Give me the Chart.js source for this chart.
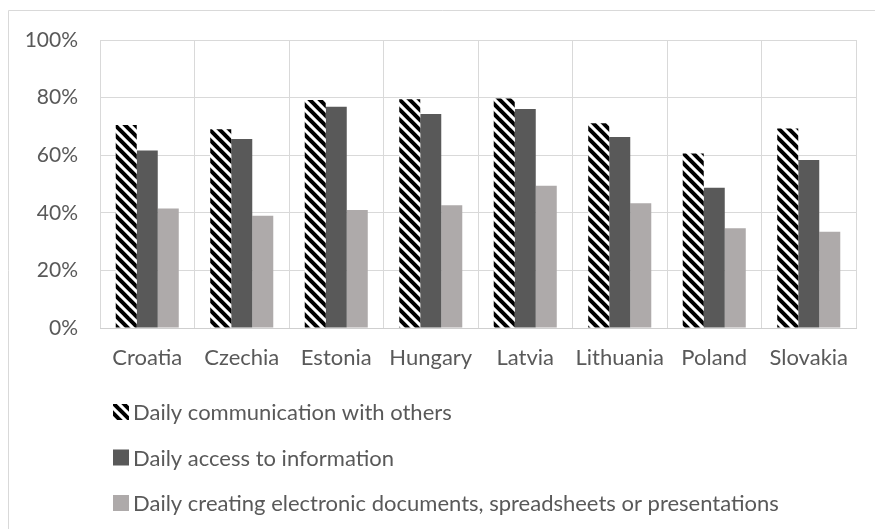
<!DOCTYPE html>
<html>
<head>
<meta charset="utf-8">
<script src="https://cdn.jsdelivr.net/npm/chart.js@4"></script>
<style>
  html, body { margin: 0; padding: 0; background: #fff; }
  #wrap { width: 875px; height: 529px; }
</style>
</head>
<body>
<div id="wrap"><canvas id="chart" width="875" height="529"></canvas></div>
<script>
// Countries on the x axis
const countries = ["Croatia", "Czechia", "Estonia", "Hungary", "Latvia", "Lithuania", "Poland", "Slovakia"];

// Share of people (%) per activity
const communication = [70.5, 69.0, 79.2, 79.4, 79.7, 71.1, 60.6, 69.3];
const accessInfo = [61.6, 65.6, 76.8, 74.3, 76.0, 66.3, 48.7, 58.3];
const creatingDocs = [41.5, 39.0, 41.0, 42.6, 49.4, 43.3, 34.6, 33.4];

const seriesNames = [
  "Daily communication with others",
  "Daily access to information",
  "Daily creating electronic documents, spreadsheets or presentations",
];

const yTicks = [0, 20, 40, 60, 80, 100];

const FONT = "Lato";
const TEXT = "#595959";

// black diagonal stripes (like the Excel wide downward diagonal fill)
function stripePattern() {
  const size = 10;
  const c = document.createElement("canvas");
  c.width = size;
  c.height = size;
  const g = c.getContext("2d");
  g.fillStyle = "#fff";
  g.fillRect(0, 0, size, size);
  g.strokeStyle = "#000";
  g.lineWidth = 4;
  for (let k = -1; k <= 1; k++) {
    g.beginPath();
    g.moveTo(k * size - 2, -2);
    g.lineTo(k * size + size + 2, size + 2);
    g.stroke();
  }
  const ctx = document.getElementById("chart").getContext("2d");
  return ctx.createPattern(c, "repeat");
}

// legend drawn as a vertical list below the axis, plus the outer frame
const sideLegend = {
  id: "sideLegend",
  afterDraw(chart) {
    const ctx = chart.ctx;
    ctx.save();
    ctx.strokeStyle = "#d9d9d9";
    ctx.lineWidth = 1;
    ctx.beginPath();
    ctx.moveTo(8.5, 600);
    ctx.lineTo(8.5, 10.5);
    ctx.lineTo(900, 10.5);
    ctx.stroke();

    ctx.font = "22px " + FONT;
    ctx.textBaseline = "middle";
    ctx.textAlign = "left";
    chart.data.datasets.forEach((ds, i) => {
      const y = 412 + i * 45.5;
      ctx.fillStyle = ds.backgroundColor;
      ctx.fillRect(113, y - 8, 16, 16);
      ctx.fillStyle = TEXT;
      ctx.fillText(ds.label, 133, y + 1);
    });
    ctx.restore();
  },
};

const config = {
  type: "bar",
  data: {
    labels: countries,
    datasets: [
      { label: seriesNames[0], data: communication, backgroundColor: stripePattern() },
      { label: seriesNames[1], data: accessInfo, backgroundColor: "#595959" },
      { label: seriesNames[2], data: creatingDocs, backgroundColor: "#aeaaaa" },
    ],
  },
  options: {
    responsive: false,
    animation: false,
    layout: { padding: { left: 0, right: 19, top: 40, bottom: 151 } },
    datasets: {
      bar: { categoryPercentage: 0.667, barPercentage: 1.0, borderWidth: 0 },
    },
    plugins: {
      legend: { display: false },
      tooltip: { enabled: false },
    },
    scales: {
      x: {
        grid: { color: "#d9d9d9", lineWidth: 1, drawTicks: false, offset: true },
        border: { color: "#cfcfcf" },
        ticks: { color: TEXT, font: { family: FONT, size: 22 }, padding: 17, maxRotation: 0 },
        afterFit(axis) { axis.height = 50; },
      },
      y: {
        min: 0,
        max: 100,
        afterBuildTicks(axis) { axis.ticks = yTicks.map((v) => ({ value: v })); },
        grid: { color: "#d9d9d9", lineWidth: 1, drawTicks: false },
        border: { display: false },
        ticks: {
          color: TEXT,
          font: { family: FONT, size: 21 },
          padding: 22,
          callback: (v) => v + "%",
        },
        afterFit(axis) { axis.width = 100; },
      },
    },
  },
  plugins: [sideLegend],
};

const chart = new Chart(document.getElementById("chart"), config);
</script>
</body>
</html>
